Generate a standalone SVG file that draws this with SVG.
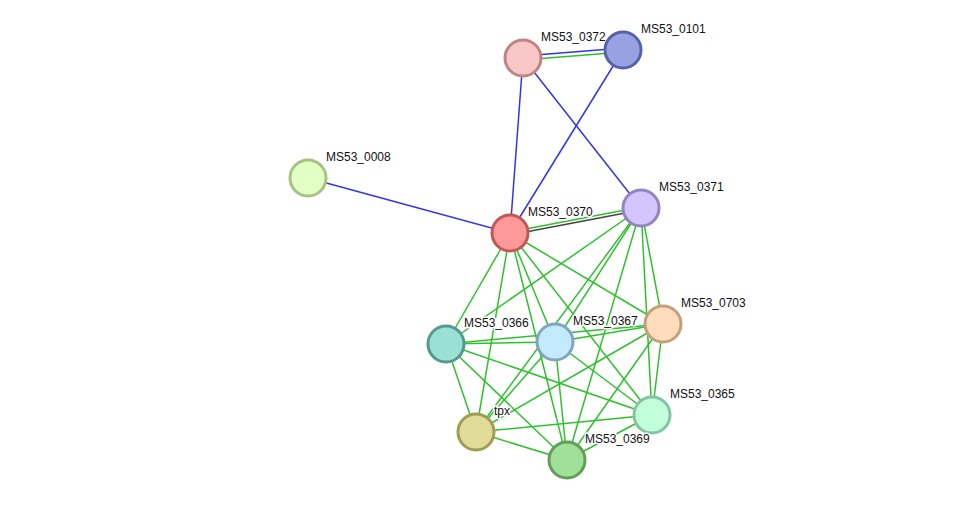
<svg xmlns="http://www.w3.org/2000/svg" width="976" height="505" viewBox="0 0 976 505">
<style>
.g{stroke:#2ec12e;stroke-width:1.5;fill:none}
.b{stroke:#3333ee;stroke-width:1.5;fill:none}
.k{stroke:#444;stroke-width:1.5;fill:none}
circle{stroke-width:3}
text{font-family:"Liberation Sans",Arial,sans-serif;font-size:12px;fill:#111;stroke:#fff;stroke-width:3;stroke-linejoin:round;paint-order:stroke}
</style>
<rect width="976" height="505" fill="#fff"/>
<g id="connectors">
<line class="g" x1="523" y1="60" x2="623" y2="52"/>
<line class="b" x1="523" y1="56" x2="623" y2="48"/>
<line class="b" x1="523" y1="58" x2="510" y2="233"/>
<line class="b" x1="523" y1="58" x2="641" y2="208"/>
<line class="b" x1="623" y1="50" x2="510" y2="233"/>
<line class="b" x1="308" y1="178" x2="510" y2="233"/>
<line class="g" x1="510" y1="232" x2="641" y2="207"/>
<line class="k" x1="510" y1="235" x2="641" y2="210"/>
<line class="g" x1="510" y1="233" x2="446" y2="344"/>
<line class="g" x1="510" y1="233" x2="476" y2="432"/>
<line class="g" x1="510" y1="233" x2="567" y2="460"/>
<line class="g" x1="510" y1="233" x2="555" y2="342"/>
<line class="g" x1="510" y1="233" x2="652" y2="415"/>
<line class="g" x1="510" y1="233" x2="663" y2="324"/>
<line class="g" x1="641" y1="208" x2="446" y2="344"/>
<line class="g" x1="641" y1="208" x2="555" y2="342"/>
<line class="g" x1="641" y1="208" x2="476" y2="432"/>
<line class="g" x1="641" y1="208" x2="567" y2="460"/>
<line class="g" x1="641" y1="208" x2="652" y2="415"/>
<line class="g" x1="641" y1="208" x2="663" y2="324"/>
<line class="g" x1="446" y1="344" x2="555" y2="342"/>
<line class="g" x1="446" y1="344" x2="663" y2="324"/>
<line class="g" x1="446" y1="344" x2="652" y2="415"/>
<line class="g" x1="446" y1="344" x2="567" y2="460"/>
<line class="g" x1="446" y1="344" x2="476" y2="432"/>
<line class="g" x1="555" y1="342" x2="663" y2="324"/>
<line class="g" x1="555" y1="342" x2="652" y2="415"/>
<line class="g" x1="555" y1="342" x2="567" y2="460"/>
<line class="g" x1="555" y1="342" x2="476" y2="432"/>
<line class="g" x1="663" y1="324" x2="652" y2="415"/>
<line class="g" x1="663" y1="324" x2="567" y2="460"/>
<line class="g" x1="663" y1="324" x2="476" y2="432"/>
<line class="g" x1="652" y1="415" x2="476" y2="432"/>
<line class="g" x1="652" y1="415" x2="567" y2="460"/>
<line class="g" x1="476" y1="432" x2="567" y2="460"/>
</g>
<g id="MS53_0372"><circle cx="523" cy="58" r="18" fill="#f8c8c8" stroke="#c08484"/><text x="541" y="41">MS53_0372</text></g>
<g id="MS53_0101"><circle cx="623" cy="50" r="18" fill="#98a2e2" stroke="#5562a6"/><text x="641" y="33">MS53_0101</text></g>
<g id="MS53_0008"><circle cx="308" cy="178" r="18" fill="#e2ffc4" stroke="#a6c284"/><text x="326" y="161">MS53_0008</text></g>
<g id="MS53_0370"><circle cx="510" cy="233" r="18" fill="#ff9898" stroke="#c05858"/><text x="528" y="216">MS53_0370</text></g>
<g id="MS53_0371"><circle cx="641" cy="208" r="18" fill="#d4c4ff" stroke="#9484c4"/><text x="659" y="191">MS53_0371</text></g>
<g id="MS53_0703"><circle cx="663" cy="324" r="18" fill="#ffdcbc" stroke="#c0a07e"/><text x="681" y="307">MS53_0703</text></g>
<g id="MS53_0366"><circle cx="446" cy="344" r="18" fill="#9ae0d4" stroke="#559a90"/><text x="464" y="327">MS53_0366</text></g>
<g id="MS53_0367"><circle cx="555" cy="342" r="18" fill="#c4eaff" stroke="#80a6c0"/><text x="573" y="325">MS53_0367</text></g>
<g id="MS53_0365"><circle cx="652" cy="415" r="18" fill="#c4ffdc" stroke="#84c4a0"/><text x="670" y="398">MS53_0365</text></g>
<g id="tpx"><circle cx="476" cy="432" r="18" fill="#e0dc98" stroke="#a09c54"/><text x="494" y="415">tpx</text></g>
<g id="MS53_0369"><circle cx="567" cy="460" r="18" fill="#a0e098" stroke="#5f9f58"/><text x="585" y="443">MS53_0369</text></g>
</svg>
